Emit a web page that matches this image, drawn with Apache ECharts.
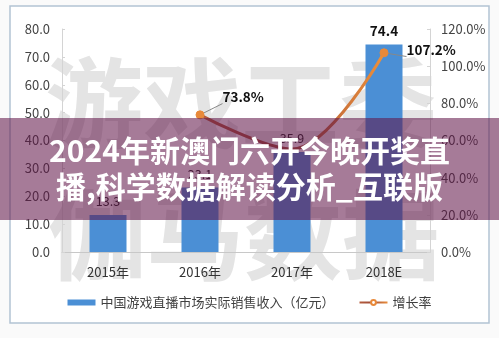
<!DOCTYPE html>
<html><head><meta charset="utf-8">
<script src="https://cdn.jsdelivr.net/npm/echarts@6/dist/echarts.min.js"></script>
<style>html,body{margin:0;padding:0;background:#fff}#c{width:499px;height:338px}</style>
</head><body><div id="c"></div>
<script>
var categories = ['2015年', '2016年', '2017年', '2018E'];
var revenue = [13.3, 23.1, 35.9, 74.4];
var growth = [null, 73.8, 55.4, 107.2];
var leftTicks = {min: 0, max: 80, interval: 10};
var rightTicks = {min: 0, max: 120, interval: 20};
var seriesNames = ['中国游戏直播市场实际销售收入（亿元）', '增长率'];
var bannerLines = ['2024年新澳门六开今晚开奖直', '播,科学数据解读分析_互联版'];
var watermarkTop = '游戏工委';
var watermarkBottom = '伽马数据';

var FONT = '"Noto Sans CJK SC", "Noto Sans", sans-serif';
var lineLabelOffsets = [null, [6, -18], [0, 0], [6, -3]];
var chart = echarts.init(document.getElementById('c'), null, {renderer: 'canvas'});
chart.setOption({
  backgroundColor: '#fafafa',
  animation: false,
  textStyle: {fontFamily: FONT},
  graphic: [
    {type: 'rect', z: -10, shape: {x: 10, y: 6, width: 479, height: 317},
     style: {fill: '#ffffff', stroke: '#b3c3d3', lineWidth: 1.5}},
    {type: 'text', z: -5, left: 45, top: 54,
     style: {text: watermarkTop, font: 'bold 98px "Noto Sans CJK SC"', fill: '#e4e4e4'}},
    {type: 'text', z: -5, left: 48, top: 186,
     style: {text: watermarkBottom, font: 'bold 98px "Noto Sans CJK SC"', fill: '#e4e4e4'}},
    {type: 'rect', z: 100, shape: {x: 0, y: 118, width: 499, height: 102},
     style: {fill: 'rgba(96,20,72,0.56)'}},
    {type: 'text', z: 101, left: 'center', top: 136,
     style: {text: bannerLines[0], font: 'bold 30px "Noto Sans CJK SC"', fill: '#ffffff'}},
    {type: 'text', z: 101, left: 'center', top: 172,
     style: {text: bannerLines[1], font: 'bold 30px "Noto Sans CJK SC"', fill: '#ffffff'}}
  ],
  grid: {left: 62, right: 69, top: 29, bottom: 86},
  legend: {
    bottom: 24, left: 'center', itemGap: 24, itemWidth: 28, itemHeight: 6,
    textStyle: {fontSize: 13, color: '#404040', fontFamily: FONT},
    data: [
      {name: seriesNames[0], icon: 'rect'},
      {name: seriesNames[1]}
    ]
  },
  xAxis: {
    type: 'category', data: categories,
    axisLine: {lineStyle: {color: '#c8c8c8', width: 1}},
    axisTick: {show: false},
    axisLabel: {color: '#333', fontSize: 13, margin: 14, fontFamily: FONT}
  },
  yAxis: [
    {type: 'value', min: leftTicks.min, max: leftTicks.max, interval: leftTicks.interval,
     splitLine: {show: false},
     axisLine: {show: true, lineStyle: {color: '#d4d4d4'}},
     axisTick: {show: true, inside: true, length: 3, lineStyle: {color: '#d4d4d4'}},
     axisLabel: {color: '#444', fontSize: 13, margin: 12, formatter: function(v){return v.toFixed(1);}}},
    {type: 'value', min: rightTicks.min, max: rightTicks.max, interval: rightTicks.interval,
     splitLine: {show: false},
     axisLine: {show: true, lineStyle: {color: '#d4d4d4'}},
     axisTick: {show: true, inside: true, length: 3, lineStyle: {color: '#d4d4d4'}},
     axisLabel: {color: '#444', fontSize: 13, margin: 11, formatter: function(v){return v.toFixed(1) + '%';}}}
  ],
  series: [
    {name: seriesNames[0], type: 'bar', barWidth: 37, z: 2,
     data: revenue.map(function(v, i){
       return {value: v, label: i === revenue.length - 1 ? {fontWeight: 'bold', fontSize: 13.5, color: '#111'} : {}};
     }),
     itemStyle: {color: '#4b8fd5'},
     label: {show: true, position: 'top', distance: 7, color: '#222', fontSize: 12.5,
             formatter: function(p){return p.value.toFixed(1);}},
     emphasis: {disabled: true}},
    {name: seriesNames[1], type: 'line', yAxisIndex: 1, z: 5, smooth: 0.35,
     data: growth.map(function(v, i){
       return {value: v, symbol: i === 2 ? 'none' : 'circle',
               label: {show: i !== 2, offset: lineLabelOffsets[i] || [0, 0]}};
     }),
     symbolSize: 8,
     itemStyle: {color: '#e8893a', borderColor: '#e8893a'},
     lineStyle: {width: 3, color: {type: 'linear', x: 0, y: 0, x2: 1, y2: 0,
       colorStops: [{offset: 0, color: '#b85e3c'}, {offset: 0.45, color: '#9e4c3a'}, {offset: 1, color: '#f0923a'}]}},
     label: {show: true, position: 'right', distance: 12, color: '#111', fontSize: 13.5, fontWeight: 'bold',
             formatter: function(p){return p.value.toFixed(1) + '%';}},
     labelLine: {show: true, lineStyle: {color: '#888', width: 1}},
     emphasis: {disabled: true}}
  ]
});
</script></body></html>
